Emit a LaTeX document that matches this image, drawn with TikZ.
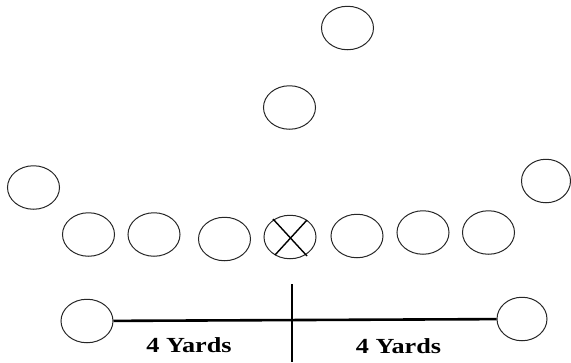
\documentclass[tikz,border=0pt]{standalone}
\usepackage{fontspec}
\newfontfamily\labelfont{Liberation Serif}
\usetikzlibrary{shapes.geometric}
\tikzset{
  player/.style={draw=black!85, line width=1pt, ellipse, inner sep=0pt, minimum width=52pt, minimum height=43.5pt},
  yardline/.style={line width=2.6pt, black},
  crossline/.style={line width=1.4pt, black},
  yardlabel/.style={anchor=base, inner sep=0pt, font=\labelfont\bfseries\fontsize{21.5}{21.5}\selectfont}
}
\begin{document}
\begin{tikzpicture}[x=1pt,y=-1pt]
\useasboundingbox (0,0) rectangle (571,362);
\node[player] (top) at (347.5,28) {};
\node[player] (second) at (289.5,107.5) {};
\node[player] (left) at (33.5,187.5) {};
\node[player, minimum width=49pt] (right) at (546,181) {};
\node[player] (r1) at (88.5,234.5) {};
\node[player] (r2) at (154,234.5) {};
\node[player] (r3) at (224.5,239) {};
\node[player] (ctr) at (290,237) {};
\node[player] (r5) at (357,236) {};
\node[player] (r6) at (423,232.5) {};
\node[player] (r7) at (488.5,232.5) {};
\node[player] (bl) at (87,321) {};
\node[player, minimum width=50pt] (br) at (522,319) {};
\draw[crossline] ([shift={(-17,-18)}]ctr.center) -- ([shift={(17,19)}]ctr.center);
\draw[crossline] ([shift={(17,-17)}]ctr.center) -- ([shift={(-15,18)}]ctr.center);
\draw[yardline] (bl) -- (br);
\coordinate (vt) at (292,284);
\coordinate (vb) at (292,362);
\draw[yardline] (vt) -- (vb);
\node[yardlabel] (l1) at (189,352) {\scalebox{1.22}[1]{4 Yards}};
\node[yardlabel] (l2) at (398.5,353) {\scalebox{1.22}[1]{4 Yards}};
\end{tikzpicture}
\end{document}
